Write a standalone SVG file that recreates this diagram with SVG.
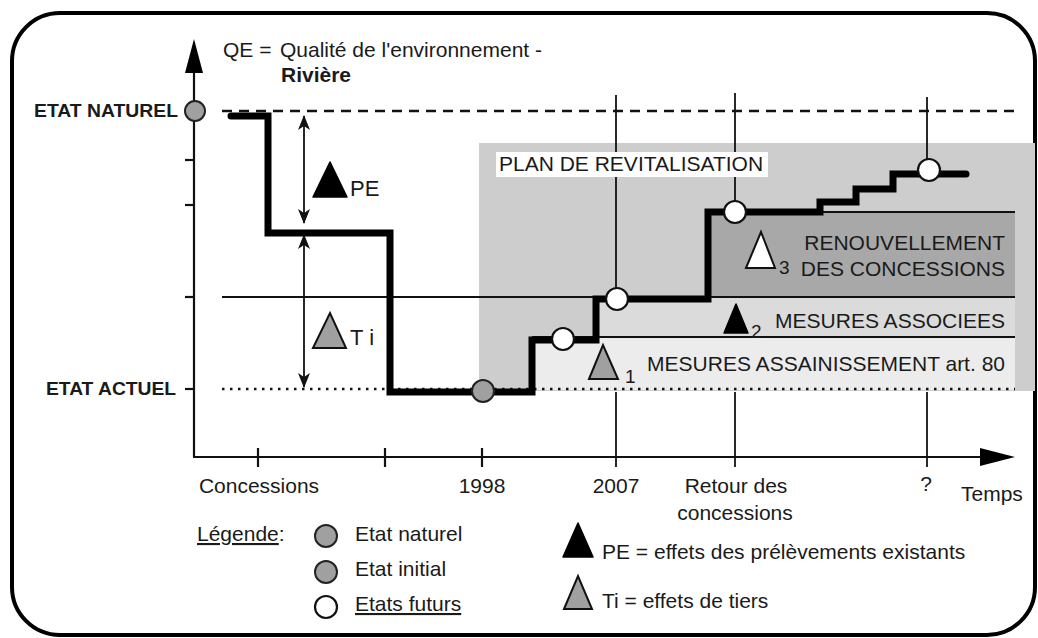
<svg xmlns="http://www.w3.org/2000/svg" width="1038" height="638" viewBox="0 0 1038 638">
<style>
text{font-family:"Liberation Sans",Arial,Helvetica,sans-serif;font-size:21px;fill:#1a1a1a}
.b{font-weight:bold}
.lbl{font-size:18.5px;font-weight:bold}
.num{font-size:19px}
.thin{stroke:#111;stroke-width:1.8;fill:none}
.axis{stroke:#111;stroke-width:2.2;fill:none}
.step{stroke:#000;stroke-width:7;fill:none;stroke-linejoin:miter;stroke-linecap:round}
.fut{fill:#fff;stroke:#111;stroke-width:2.2}
.gr{fill:#a0a0a0;stroke:#222;stroke-width:2}
.tb{fill:#000;stroke:#000;stroke-width:1.5;stroke-linejoin:round}
.tg{fill:#a0a0a0;stroke:#111;stroke-width:2;stroke-linejoin:miter}
.tw{fill:#fff;stroke:#111;stroke-width:2;stroke-linejoin:miter}
</style>
<defs>
<marker id="ah" viewBox="0 0 15 12" refX="14" refY="6" markerWidth="15" markerHeight="12" markerUnits="userSpaceOnUse" orient="auto-start-reverse">
<path d="M0,0 L15,6 L0,12 L4,6 Z" fill="#111"/>
</marker>
</defs>
<rect width="1038" height="638" fill="#fff"/>
<rect id="frame" x="12" y="13" width="1023" height="622" rx="48" ry="48" fill="none" stroke="#000" stroke-width="4"/>

<g id="plan">
<rect x="479" y="143" width="556" height="248" fill="#cdcdcd"/>
<rect x="708" y="212" width="307" height="85" fill="#a8a8a8"/>
<rect x="596" y="297" width="419" height="40" fill="#dbdbdb"/>
<rect x="532" y="337" width="483" height="53" fill="#ececec"/>
</g>

<g id="connectors">
<line class="thin" x1="222" y1="297" x2="1015" y2="297"/>
<line class="thin" x1="532" y1="337" x2="1015" y2="337"/>
<line class="thin" x1="708" y1="212" x2="1015" y2="212"/>
<line x1="222" y1="111" x2="1015" y2="111" stroke="#111" stroke-width="2.5" stroke-dasharray="10 7"/>
<line x1="222" y1="389" x2="1015" y2="389" stroke="#111" stroke-width="2.5" stroke-dasharray="2.5 5.5"/>
<line class="thin" x1="616" y1="95" x2="616" y2="299"/>
<line class="thin" x1="735" y1="93" x2="735" y2="212"/>
<line class="thin" x1="927" y1="97" x2="927" y2="170"/>
<line class="thin" x1="616" y1="392" x2="616" y2="467"/>
<line class="thin" x1="735" y1="392" x2="735" y2="467"/>
<line class="thin" x1="927" y1="392" x2="927" y2="467"/>
<line class="thin" x1="304" y1="116" x2="304" y2="223" marker-start="url(#ah)" marker-end="url(#ah)"/>
<line class="thin" x1="304" y1="235" x2="304" y2="387" marker-start="url(#ah)" marker-end="url(#ah)"/>
</g>

<g id="plan-label">
<rect x="496" y="152" width="272" height="25" fill="#fff"/>
<text x="499" y="171">PLAN DE REVITALISATION</text>
</g>

<g id="axes">
<line class="axis" x1="194" y1="70" x2="194" y2="457"/>
<polygon points="194,39 185,73 203,73" fill="#000"/>
<line class="axis" x1="193" y1="457" x2="982" y2="457"/>
<polygon points="1015,457 980,448 980,466" fill="#000"/>
<line class="axis" x1="185" y1="160" x2="194" y2="160"/>
<line class="axis" x1="185" y1="205" x2="194" y2="205"/>
<line class="axis" x1="185" y1="297" x2="194" y2="297"/>
<line class="axis" x1="185" y1="389" x2="194" y2="389"/>
<line class="axis" x1="258" y1="448" x2="258" y2="467"/>
<line class="axis" x1="385" y1="448" x2="385" y2="467"/>
<line class="axis" x1="482" y1="448" x2="482" y2="467"/>
</g>

<g id="courbe">
<path class="step" d="M231,116 H268 V233 H390 V392 H532 V340 H596 V299 H708 V212 H820 V202 H856 V189 H893 V174 H966"/>
</g>

<g id="etats">
<circle class="gr" cx="195" cy="111" r="10"/>
<circle class="gr" cx="483" cy="391" r="11"/>
<circle class="fut" cx="563" cy="339" r="11"/>
<circle class="fut" cx="617" cy="299" r="11"/>
<circle class="fut" cx="735" cy="212" r="11"/>
<circle class="fut" cx="929" cy="170" r="11"/>
</g>

<g id="titre">
<text x="223" y="57">QE =</text>
<text x="280" y="57">Qualité de l'environnement -</text>
<text x="281" y="82" class="b">Rivière</text>
</g>

<g id="y-labels">
<text x="34" y="117" class="lbl" textLength="144" lengthAdjust="spacingAndGlyphs">ETAT NATUREL</text>
<text x="46" y="395" class="lbl" textLength="130" lengthAdjust="spacingAndGlyphs">ETAT ACTUEL</text>
</g>

<g id="pe">
<polygon class="tb" points="313,197 330,162 347,197"/>
<text x="350" y="196" style="font-size:22px">PE</text>
</g>
<g id="ti">
<polygon class="tg" points="313,348 330,313 346,348"/>
<text x="350" y="345" style="font-size:22px">T i</text>
</g>

<g id="renouvellement">
<polygon class="tw" points="746,268 761,232 775,268"/>
<text x="779" y="274" class="num">3</text>
<text x="1005" y="250" text-anchor="end">RENOUVELLEMENT</text>
<text x="1005" y="276" text-anchor="end">DES CONCESSIONS</text>
</g>

<g id="associees">
<polygon class="tb" points="724,333 736,304 748,333"/>
<text x="751" y="338" class="num">2</text>
<text x="1005" y="328" text-anchor="end">MESURES ASSOCIEES</text>
</g>

<g id="assainissement">
<polygon class="tg" points="589,379 603,345 618,379"/>
<text x="625" y="383" class="num">1</text>
<text x="1005" y="371" text-anchor="end">MESURES ASSAINISSEMENT art. 80</text>
</g>

<g id="x-labels">
<text x="259" y="493" text-anchor="middle">Concessions</text>
<text x="482" y="493" text-anchor="middle">1998</text>
<text x="616" y="493" text-anchor="middle">2007</text>
<text x="736" y="493" text-anchor="middle">Retour des</text>
<text x="735" y="520" text-anchor="middle">concessions</text>
<text x="926" y="491" text-anchor="middle">?</text>
<text x="961" y="501">Temps</text>
</g>

<g id="legende">
<text x="197" y="541"><tspan text-decoration="underline">Légende</tspan>:</text>
<circle class="gr" cx="326" cy="536" r="11"/>
<text x="355" y="541">Etat naturel</text>
<circle class="gr" cx="326" cy="572" r="11"/>
<text x="355" y="576">Etat initial</text>
<circle class="fut" cx="326" cy="607" r="11"/>
<text x="355" y="611" text-decoration="underline">Etats futurs</text>
<polygon class="tb" points="563,557 578,523 593,557"/>
<text x="602" y="559">PE = effets des prélèvements existants</text>
<polygon class="tg" points="564,609 578,576 592,609"/>
<text x="602" y="608">Ti = effets de tiers</text>
</g>
</svg>
